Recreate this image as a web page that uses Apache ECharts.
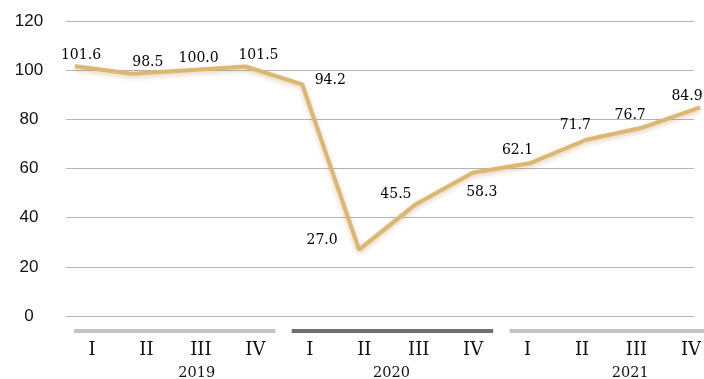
<!DOCTYPE html>
<html>
<head>
<meta charset="utf-8">
<script src="https://cdn.jsdelivr.net/npm/echarts@6/dist/echarts.min.js"></script>
<style>
html,body{margin:0;padding:0;background:#fff;}
#chart{width:704px;height:379px;}
</style>
</head>
<body>
<div id="chart"></div>
<script>
const years = ['2019', '2020', '2021'];
const quarters = ['I', 'II', 'III', 'IV'];
const values = [101.6, 98.5, 100.0, 101.5, 94.2, 27.0, 45.5, 58.3, 62.1, 71.7, 76.7, 84.9];
const yTicks = [0, 20, 40, 60, 80, 100, 120];

// style-only arrays
const labelOffsets = [[6,-11],[16,-11],[10,-12],[13,-11],[28,-4],[-37,-9],[-20,-10],[9,20],[-12,-13],[-11,-14],[-13,-12],[-13,-11]];
const yearBarColors = ['#c3c3c3', '#707070', '#c3c3c3'];
const yearLabelShift = [23, 0, 21];

const categories = [];
years.forEach(y => quarters.forEach(q => categories.push(y + ' ' + q)));

const serif = '"DejaVu Serif", serif';
const chart = echarts.init(document.getElementById('chart'), null, {renderer: 'canvas'});

const option = {
  animation: false,
  backgroundColor: '#ffffff',
  grid: [
    {left: 66, right: 10, top: 21, bottom: 63},
    {left: 75, right: 4, top: 21, bottom: 63},
    {left: 92, right: 10, top: 21, bottom: 63}
  ],
  xAxis: [
    {gridIndex: 0, type: 'category', data: categories, show: false},
    {gridIndex: 1, type: 'category', data: categories, boundaryGap: false, show: false},
    {gridIndex: 2, type: 'category', data: categories, boundaryGap: false,
     axisLine: {show: false}, axisTick: {show: false}, splitLine: {show: false},
     axisLabel: {interval: 0, margin: 25, color: '#111', fontFamily: serif, fontSize: 18,
       formatter: v => v.split(' ')[1]}}
  ],
  yAxis: [
    {gridIndex: 0, type: 'value', min: yTicks[0], max: yTicks[yTicks.length-1], interval: 20,
     axisLine: {show: false}, axisTick: {show: false},
     splitLine: {show: true, lineStyle: {color: '#b4b4b4', width: 1}},
     axisLabel: {margin: 37, align: 'center', color: '#111', fontFamily: '"Liberation Sans", Arial, sans-serif', fontSize: 17}},
    {gridIndex: 1, type: 'value', min: 0, max: 120, show: false, splitLine: {show: false}},
    {gridIndex: 2, type: 'value', min: 0, max: 120, show: false, splitLine: {show: false}}
  ],
  series: [{
    type: 'line',
    xAxisIndex: 1, yAxisIndex: 1,
    data: values.map((v, i) => ({value: v, label: {offset: labelOffsets[i]}})),
    symbol: 'circle', symbolSize: 0.1, showSymbol: true,
    lineStyle: {color: '#dcb772', width: 4, shadowColor: 'rgba(170,130,60,0.4)', shadowBlur: 5, shadowOffsetY: 2},
    itemStyle: {color: '#dcb772'},
    label: {show: true, position: 'inside', color: '#000', fontFamily: serif, fontSize: 14,
      formatter: p => p.value.toFixed(1)}
  }]
};
chart.setOption(option);

const graphics = [];
years.forEach((y, k) => {
  const x0 = chart.convertToPixel({xAxisIndex: 2}, categories[4*k]);
  const x3 = chart.convertToPixel({xAxisIndex: 2}, categories[4*k+3]);
  const x1 = chart.convertToPixel({xAxisIndex: 2}, categories[4*k+1]);
  const x2 = chart.convertToPixel({xAxisIndex: 2}, categories[4*k+2]);
  const yb = chart.convertToPixel({yAxisIndex: 2}, 0);
  graphics.push({type: 'rect', shape: {x: x0 - 18, y: yb + 13, width: (x3 + 20) - (x0 - 18), height: 4},
    style: {fill: yearBarColors[k]}, silent: true});
  graphics.push({type: 'text', x: (x1 + x2) / 2 + yearLabelShift[k], y: yb + 57,
    style: {text: y, fill: '#111', font: '14.5px ' + serif, textAlign: 'center', textVerticalAlign: 'middle'}, silent: true});
});
chart.setOption({graphic: graphics});
</script>
</body>
</html>
